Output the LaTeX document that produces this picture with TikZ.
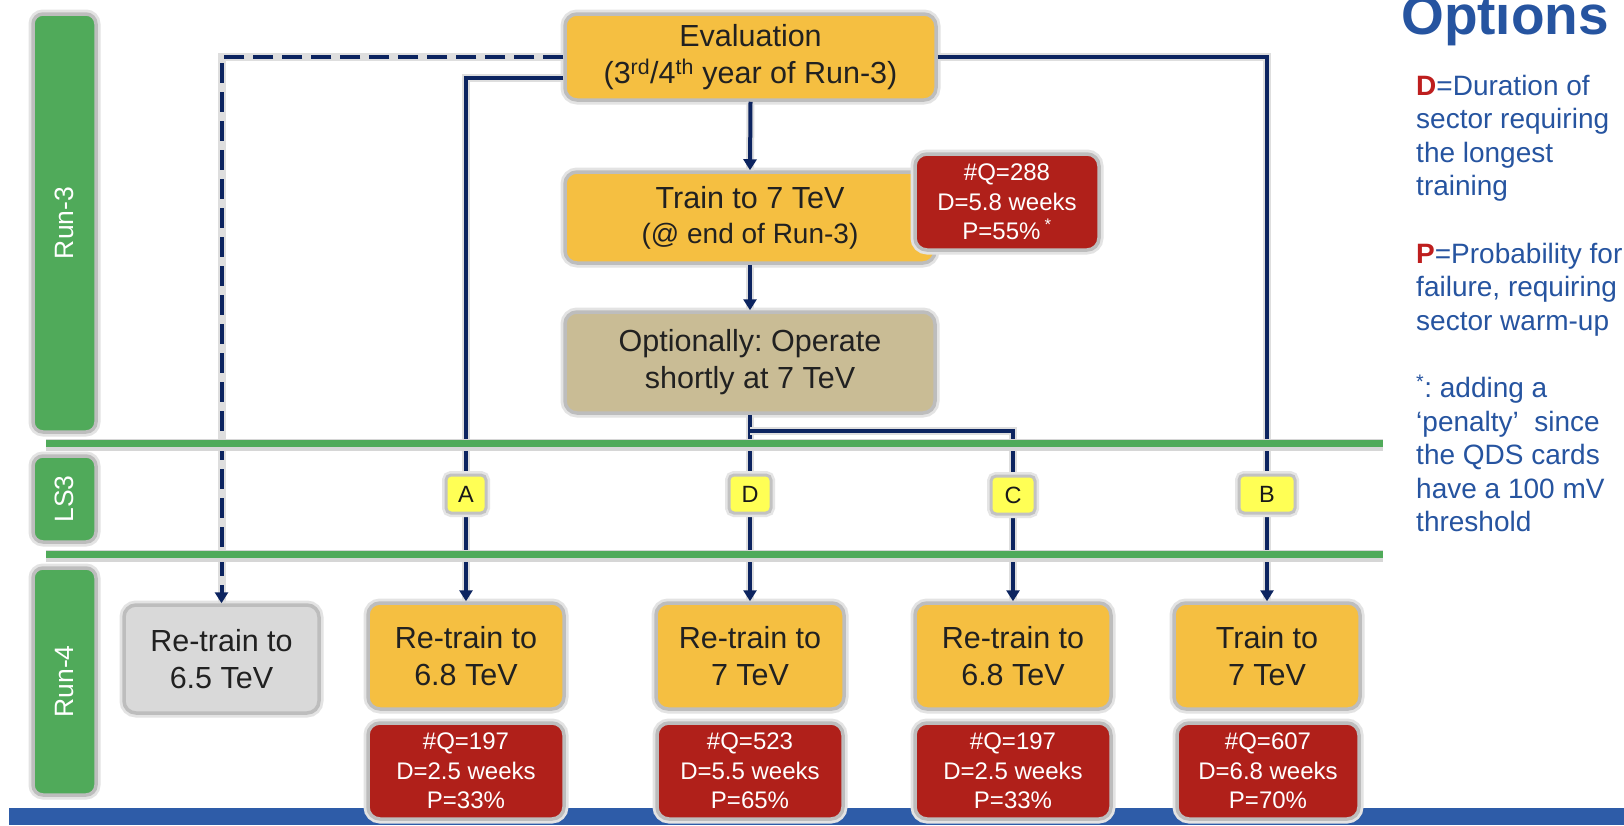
\documentclass[tikz,border=0pt]{standalone}
\usepackage{fontspec}
\setmainfont{Liberation Sans}
\usetikzlibrary{arrows.meta}
\frenchspacing
\definecolor{cGreen}{RGB}{80,170,90}
\definecolor{cOrange}{RGB}{245,191,65}
\definecolor{cTan}{RGB}{201,188,149}
\definecolor{cGray}{RGB}{217,217,217}
\definecolor{cRed}{RGB}{176,32,26}
\definecolor{cYellow}{RGB}{255,255,85}
\definecolor{cNavy}{RGB}{12,36,96}
\definecolor{cTxtBlue}{RGB}{38,84,160}
\definecolor{cBarBlue}{RGB}{46,92,168}
\definecolor{cKeyRed}{RGB}{190,30,30}
\tikzset{
  halo/.style={draw=black!26, line width=3.5pt, preaction={draw=black!11, line width=9pt}},
  box/.style={halo, rounded corners=12pt, inner sep=0pt, align=center, text=black!87, font=\fontsize{30.5}{37}\selectfont},
  obox/.style={box, fill=cOrange},
  redb/.style={halo, rounded corners=12pt, inner sep=0pt, align=center, fill=cRed, text=white, font=\fontsize{24}{29.5}\selectfont},
  lbl/.style={draw=black!24, line width=3pt, preaction={draw=black!10, line width=8pt}, rounded corners=5pt, fill=cYellow, inner sep=0pt, minimum height=38pt, text=black!90, font=\fontsize{23.5}{27}\selectfont},
  side/.style={halo, rounded corners=10pt, fill=cGreen, inner sep=0pt, text=white, rotate=90, minimum height=63pt, font=\fontsize{26.5}{30}\selectfont},
  conn/.style={draw=cNavy, line width=4pt, -{Triangle[length=11pt,width=13pt]}, preaction={draw=black!13, line width=8pt, -}},
  dconn/.style={conn, dash pattern=on 20pt off 9pt},
  gline/.style={draw=cGreen, line width=7pt},
  gshade/.style={draw=black!16, line width=12pt},
}
\begin{document}
\begin{tikzpicture}[x=1pt,y=-1pt]
\useasboundingbox (0,0) rectangle (1624,825);
\fill[white] (0,0) rectangle (1624,825);
\fill[cBarBlue] (9,808) rectangle (1624,825);

% side bars
\node[side, minimum width=418pt] (run3) at (64.5,223) {Run-3};
\node[side, minimum width=86pt] (ls3) at (64.5,499) {LS3};
\node[side, minimum width=227pt] (run4) at (64.5,681.5) {Run-4};

% main boxes
\node[obox, minimum width=371pt, minimum height=86pt] (eval) at (750.5,57)
  {Evaluation\\(3\textsuperscript{rd}/4\textsuperscript{th} year of Run-3)};
\node[obox, minimum width=370pt, minimum height=91pt] (train) at (750,217.5)
  {Train to 7 TeV\\[-2pt]{\fontsize{28}{33}\selectfont(@ end of Run-3)}};
\node[redb, minimum width=184pt, minimum height=96pt] (q288) at (1007,202)
  {\#Q=288\\D=5.8 weeks\\P=55\%\,\textsuperscript{*}};
\node[box, fill=cTan, minimum width=370pt, minimum height=101pt] (opt) at (750,362.5)
  {Optionally: Operate\\shortly at 7 TeV};

\node[box, fill=cGray, minimum width=195pt, minimum height=108pt] (g65) at (221.5,659)
  {Re-train to\\6.5 TeV};
\node[obox, minimum width=196pt, minimum height=106pt] (a68) at (466,656)
  {Re-train to\\6.8 TeV};
\node[obox, minimum width=188pt, minimum height=106pt] (d7) at (750,656)
  {Re-train to\\7 TeV};
\node[obox, minimum width=196pt, minimum height=106pt] (c68) at (1013,656)
  {Re-train to\\6.8 TeV};
\node[obox, minimum width=186pt, minimum height=106pt] (b7) at (1267,656)
  {Train to\\7 TeV};

\node[redb, minimum width=196pt, minimum height=96pt] (qa) at (466,771)
  {\#Q=197\\D=2.5 weeks\\P=33\%};
\node[redb, minimum width=186pt, minimum height=96pt] (qd) at (750,771)
  {\#Q=523\\D=5.5 weeks\\P=65\%};
\node[redb, minimum width=196pt, minimum height=96pt] (qc) at (1013,771)
  {\#Q=197\\D=2.5 weeks\\P=33\%};
\node[redb, minimum width=182pt, minimum height=96pt] (qb) at (1268,771)
  {\#Q=607\\D=6.8 weeks\\P=70\%};

% connectors
\draw[dconn] (eval.west) -| (g65.north);
\draw[conn] ([yshift=-21pt]eval.west) -| (a68.north);
\draw[conn] (eval.east) -| (b7.north);
\draw[conn] (eval.south) -- (train.north);
\draw[conn] (train.south) -- (opt.north);
\draw[conn] (opt.south) -- (d7.north);
\coordinate (br) at ([yshift=-16pt]opt.south);
\draw[conn] (br) -| (c68.north);

% green phase lines
\draw[gshade] (46,445) -- (1383,445);
\draw[gshade] (46,556) -- (1383,556);
\draw[gline] (46,443) -- (1383,443);
\draw[gline] (46,554) -- (1383,554);

% option labels
\node[lbl, minimum width=40pt] (la) at (466,494) {A};
\node[lbl, minimum width=42pt] (ld) at (750,494) {D};
\node[lbl, minimum width=44pt] (lc) at (1013,495) {C};
\node[lbl, minimum width=56pt] (lb) at (1267,494) {B};

% legend
\node[anchor=base west, inner sep=0pt, text=cTxtBlue, font=\fontsize{55}{60}\selectfont\bfseries] (title) at (1401,34) {Options};
\node[anchor=base west, inner sep=0pt, align=left, text=cTxtBlue, font=\fontsize{28}{33.6}\selectfont] (legend) at (1416,531.8)
  {\textcolor{cKeyRed}{\textbf{D}}=Duration of\\
   sector requiring\\
   the longest\\
   training\\
   \mbox{}\\
   \textcolor{cKeyRed}{\textbf{P}}=Probability for\\
   failure, requiring\\
   sector warm-up\\
   \mbox{}\\
   \textsuperscript{*}: adding a\\
   ‘penalty’~ since\\
   the QDS cards\\
   have a 100 mV\\
   threshold};
\end{tikzpicture}
\end{document}
